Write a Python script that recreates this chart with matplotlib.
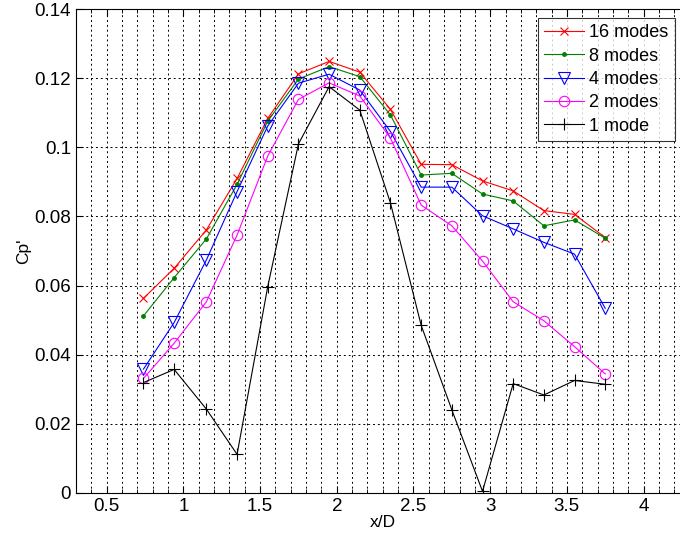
import numpy as np
import matplotlib.pyplot as plt
from matplotlib.ticker import MultipleLocator

plt.rcParams['font.family'] = ['Liberation Sans', 'DejaVu Sans']

# posizioni x/D
xD = [0.74, 0.94, 1.15, 1.35, 1.55, 1.75, 1.95, 2.15,
      2.35, 2.55, 2.75, 2.95, 3.15, 3.35, 3.55, 3.75]

# Cp' per numero di modi
cp16 = [0.0563, 0.0650, 0.0761, 0.0910, 0.1084, 0.1213, 0.1249, 0.1218,
        0.1110, 0.0951, 0.0950, 0.0903, 0.0874, 0.0817, 0.0806, 0.0739]
cp8 = [0.0512, 0.0623, 0.0735, 0.0893, 0.1076, 0.1198, 0.1234, 0.1205,
       0.1094, 0.0920, 0.0925, 0.0865, 0.0845, 0.0773, 0.0790, 0.0737]
cp4 = [0.0358, 0.0493, 0.0674, 0.0872, 0.1062, 0.1186, 0.1212, 0.1166,
       0.1046, 0.0885, 0.0885, 0.0802, 0.0764, 0.0725, 0.0691, 0.0534]
cp2 = [0.0331, 0.0433, 0.0553, 0.0746, 0.0975, 0.1139, 0.1187, 0.1149,
       0.1027, 0.0833, 0.0773, 0.0671, 0.0553, 0.0498, 0.0423, 0.0344]
cp1 = [0.0319, 0.0357, 0.0242, 0.0111, 0.0597, 0.1010, 0.1176, 0.1108,
       0.0839, 0.0485, 0.0240, 0.0004, 0.0316, 0.0283, 0.0325, 0.0314]

fig = plt.figure(figsize=(6.8, 5.41), dpi=100)
ax = fig.add_axes([76/680, 48.3/541, 613.6/680, 483.4/541])

ax.plot(xD, cp16, marker='x', color='red', lw=0.8, ms=6, mew=0.8, label='16 modes')
ax.plot(xD, cp8, marker='.', color=(0, 0.5, 0), lw=0.8, ms=5, label='8 modes')
ax.plot(xD, cp4, marker='v', color='blue', lw=0.8, ms=8, mew=0.8, mfc='none', label='4 modes')
ax.plot(xD, cp2, marker='o', color='magenta', lw=0.8, ms=7.5, mew=0.8, mfc='none', label='2 modes')
ax.plot(xD, cp1, marker='+', color='black', lw=0.8, ms=8, mew=0.8, label='1 mode')

ax.set_xlim(0.3, 4.3)
ax.set_ylim(0, 0.14)
ax.xaxis.set_major_locator(MultipleLocator(0.5))
ax.xaxis.set_minor_locator(MultipleLocator(0.1))
ax.yaxis.set_major_locator(MultipleLocator(0.02))
ax.set_xticklabels(['' if abs(t) < 1e-9 else f'{t:g}' for t in ax.get_xticks()])
ax.set_yticklabels([f'{t:g}' for t in ax.get_yticks()])
ax.tick_params(which='both', direction='in', top=True, right=True, labelsize=13.5)
ax.tick_params(which='major', length=5)
ax.tick_params(which='minor', length=3)

ax.grid(True, which='major', axis='y', color='black', ls=(0, (2, 3)), lw=0.7)
ax.grid(True, which='both', axis='x', color='black', ls=(0, (2, 3)), lw=0.7)

ax.set_xlabel('x/D', fontsize=12.5, labelpad=0)
ax.set_ylabel("Cp'", fontsize=12.5, labelpad=2)

leg = ax.legend(loc='upper right', bbox_to_anchor=(675/680, 1 - 18/541),
                bbox_transform=fig.transFigure, borderaxespad=0,
                fancybox=False, edgecolor='black', fontsize=13,
                handlelength=2.2, handletextpad=0.3, labelspacing=0.35,
                borderpad=0.35)
leg.get_frame().set_linewidth(0.8)

plt.savefig('out.png', dpi=100)
